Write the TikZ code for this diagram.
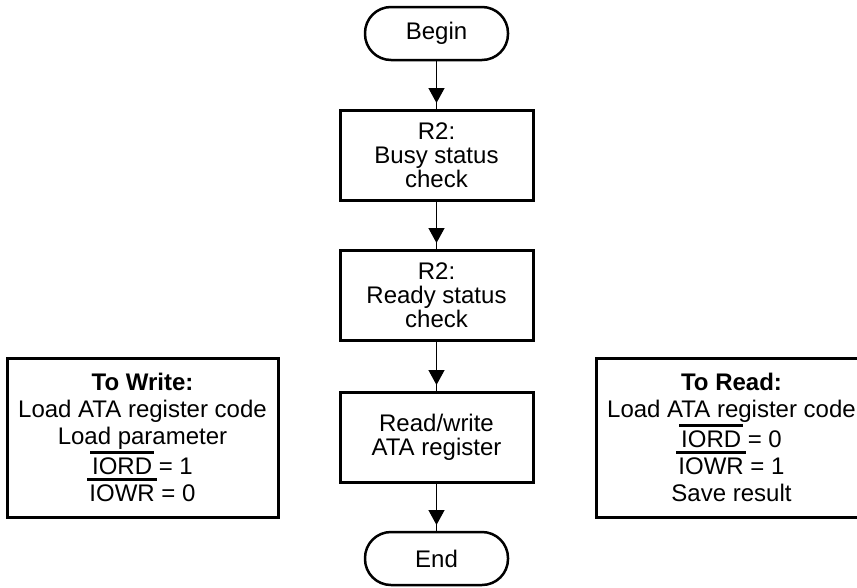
\documentclass[tikz,border=0pt]{standalone}
\usepackage{fontspec}
\setmainfont{Liberation Sans}
\usetikzlibrary{arrows.meta}

% active-low signal name: bar drawn above the text
\newsavebox\sigbox
\newcommand\lowsig[1]{\sbox\sigbox{#1}\rlap{\kern-2pt\rule[20.5pt]{\dimexpr\wd\sigbox+4pt\relax}{3pt}}\usebox\sigbox}

\tikzset{
  every node/.style={inner sep=0pt, outer sep=0pt, align=center},
  terminal/.style={draw, line width=2.5pt, rounded corners=26pt,
    minimum width=143pt, minimum height=53pt,
    font=\fontsize{24}{24}\selectfont},
  stepbox/.style={draw, line width=3pt, minimum width=193pt, minimum height=90pt,
    font=\fontsize{24}{24}\selectfont},
  notebox/.style={draw, line width=3pt, minimum width=271pt, minimum height=159pt,
    font=\fontsize{24}{27}\selectfont},
  link/.style={draw, line width=1.3pt,
    postaction={draw, -{Triangle[width=16pt,length=15pt]}, shorten >=7pt}},
}

\begin{document}
\begin{tikzpicture}[x=1pt, y=-1pt]
  \useasboundingbox (0,0) rectangle (857,587);

  \node[terminal] (begin) at (436.5,33.5) {Begin};
  \node[stepbox] (busy) at (436.5,155) {R2:\\Busy status\\check};
  \node[stepbox] (ready) at (436.5,295) {R2:\\Ready status\\check};
  \node[stepbox] (rw) at (436.5,437) {Read/write\\ATA register};
  \node[terminal] (end) at (436.5,558.5) {End};

  \node[notebox] (write) at (142.5,437.5)
    {\textbf{To Write:}\\Load ATA register code\\Load parameter\\
     \lowsig{IORD} = 1\\\lowsig{IOWR} = 0};
  \node[notebox] (read) at (731.5,437.5)
    {\textbf{To Read:}\\Load ATA register code\\\lowsig{IORD} = 0\\
     \lowsig{IOWR} = 1\\Save result};

  \path[link] (begin) -- (busy);
  \path[link] (busy) -- (ready);
  \path[link] (ready) -- (rw);
  \path[link] (rw) -- (end);
\end{tikzpicture}
\end{document}
